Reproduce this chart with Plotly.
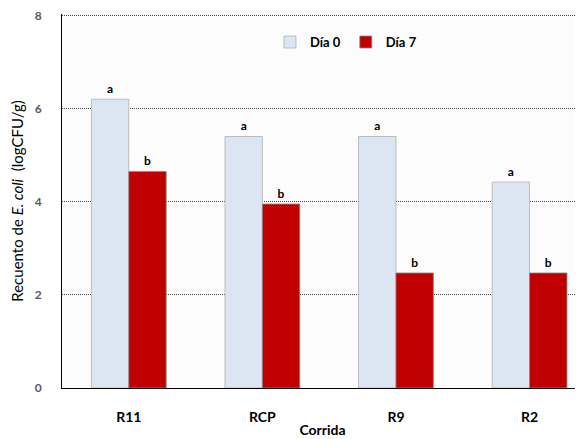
import plotly.graph_objects as go

categories = ["R11", "RCP", "R9", "R2"]
dia0 = [6.2, 5.4, 5.4, 4.42]
dia7 = [4.65, 3.95, 2.47, 2.47]
labels0 = ["a", "a", "a", "a"]
labels7 = ["b", "b", "b", "b"]
yticks = [0, 2, 4, 6, 8]

font = "Lato, 'Open Sans', sans-serif"

fig = go.Figure()
fig.add_trace(go.Bar(
    name="Día 0", x=categories, y=dia0, text=labels0, textposition="outside",
    marker=dict(color="#dce6f2", line=dict(color="#b0b0b0", width=0.8)),
    textfont=dict(family=font, size=12, color="#000000", weight="bold"),
    cliponaxis=False,
))
fig.add_trace(go.Bar(
    name="Día 7", x=categories, y=dia7, text=labels7, textposition="outside",
    marker=dict(color="#c00000", line=dict(color="#8a8a8a", width=0.8)),
    textfont=dict(family=font, size=12, color="#000000", weight="bold"),
    cliponaxis=False,
))

fig.update_layout(
    width=575, height=431,
    margin=dict(l=54, r=0, t=6, b=51),
    barmode="group", bargap=0.44, bargroupgap=0,
    paper_bgcolor="white", plot_bgcolor="#fcfcfc",
    font=dict(family=font, size=12, color="#000000"),
    showlegend=True,
    legend=dict(orientation="h", x=0.545, xanchor="center", y=0.925, yanchor="middle",
                font=dict(family=font, size=13, color="#000000", weight="bold"),
                bgcolor="rgba(0,0,0,0)", itemwidth=30, traceorder="normal"),
    xaxis=dict(
        range=[-0.5, 3.4], showline=True, linecolor="#000000", linewidth=1,
        ticks="", automargin=False, ticklabelstandoff=16,
        tickfont=dict(family=font, size=14, color="#000000", weight="bold"),
        title=dict(text="Corrida", font=dict(family=font, size=14, color="#000000", weight="bold"), standoff=1),
        showgrid=False, zeroline=False,
    ),
    yaxis=dict(
        range=[0, 8.03], tickvals=yticks, showline=True, linecolor="#000000", linewidth=1,
        automargin=False, ticklabeloverflow="allow",
        tickfont=dict(family=font, size=12, color="#595959", weight="bold"),
        showgrid=True, gridcolor="#444444", griddash="1px,1px", gridwidth=1,
        zeroline=False, ticks="", ticklabelstandoff=17,
        title=dict(text="Recuento de <i>E. coli</i>  (logCFU/g)", font=dict(family=font, size=15, color="#000000"), standoff=10),
    ),
)

fig.write_html("out.html")
